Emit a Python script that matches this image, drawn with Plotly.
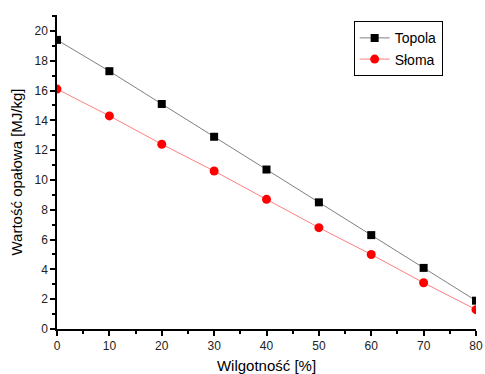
import plotly.graph_objects as go

wilgotnosc = [0, 10, 20, 30, 40, 50, 60, 70, 80]
topola = [19.4, 17.3, 15.1, 12.9, 10.7, 8.5, 6.3, 4.1, 1.9]
sloma = [16.1, 14.3, 12.4, 10.6, 8.7, 6.8, 5.0, 3.1, 1.3]

fig = go.Figure()
fig.add_trace(go.Scatter(x=wilgotnosc, y=topola, name="Topola", mode="lines+markers",
                         line=dict(color="#808080", width=1),
                         marker=dict(symbol="square", color="black", size=8)))
fig.add_trace(go.Scatter(x=wilgotnosc, y=sloma, name="Słoma", mode="lines+markers",
                         line=dict(color="#ff8080", width=1),
                         marker=dict(symbol="circle", color="red", size=9)))

fig.update_layout(
    width=485, height=374,
    margin=dict(l=57, r=9, t=15, b=45, autoexpand=False),
    paper_bgcolor="white", plot_bgcolor="white",
    font=dict(family="Liberation Sans, Arial, sans-serif", color="black"),
    showlegend=True,
    legend=dict(x=0.708, y=0.98, xanchor="left", yanchor="top",
                bordercolor="black", borderwidth=1, bgcolor="white",
                font=dict(size=14), tracegroupgap=0, itemwidth=30),
    xaxis=dict(range=[0, 80], dtick=10, showgrid=False, zeroline=False, automargin=False,
               showline=True, linecolor="black", linewidth=1.5,
               ticks="outside", ticklen=5, tickcolor="black", tickwidth=1.5,
               tickfont=dict(size=12, color="#222"),
               minor=dict(dtick=5, ticks="outside", ticklen=3, tickcolor="black", tickwidth=1.5),
               title=dict(text="Wilgotność [%]", font=dict(size=15), standoff=10)),
    yaxis=dict(range=[0, 21.07], dtick=2, showgrid=False, zeroline=False, automargin=False,
               showline=True, linecolor="black", linewidth=1.5,
               ticks="outside", ticklen=5, tickcolor="black", tickwidth=1.5,
               tickfont=dict(size=12, color="#222"),
               minor=dict(dtick=1, ticks="outside", ticklen=3, tickcolor="black", tickwidth=1.5),
               title=dict(text="Wartość opałowa [MJ/kg]", font=dict(size=15), standoff=8)),
)
fig.write_html("out.html", config={"displayModeBar": False},
               post_script="document.body.style.margin='0';document.body.style.overflow='hidden';")
